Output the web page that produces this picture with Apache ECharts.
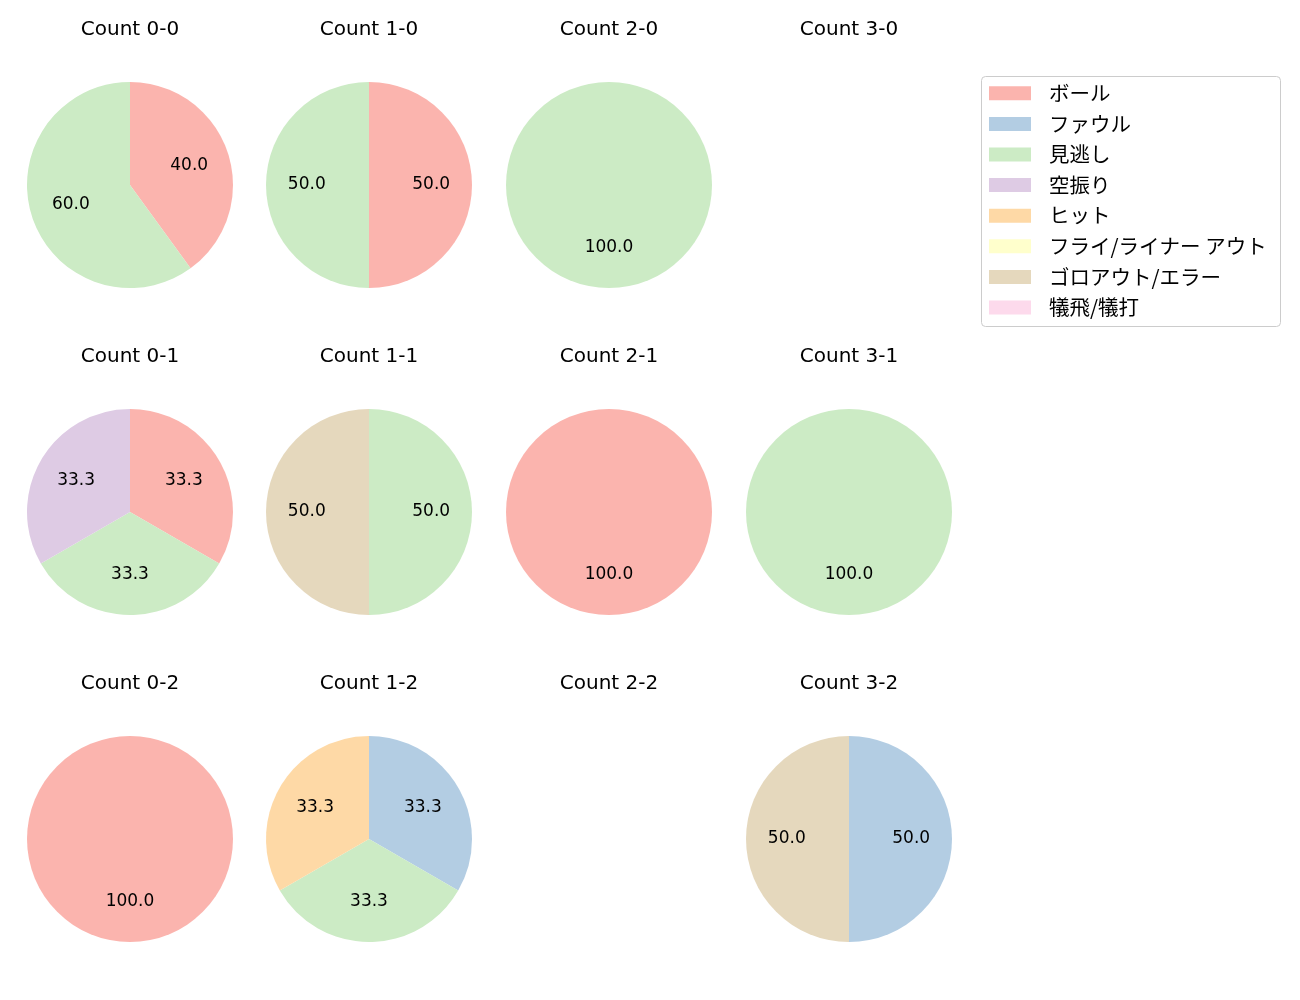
<!DOCTYPE html>
<html>
<head>
<meta charset="utf-8">
<script src="https://cdn.jsdelivr.net/npm/echarts@6/dist/echarts.min.js"></script>
<style>
html,body{margin:0;padding:0;background:#fff;}
#chart{width:1300px;height:1000px;}
</style>
</head>
<body>
<div id="chart"></div>
<script>
const categories = ['ボール','ファウル','見逃し','空振り','ヒット','フライ/ライナー アウト','ゴロアウト/エラー','犠飛/犠打'];
const colors = ['#fbb4ae','#b3cde3','#ccebc5','#decbe4','#fed9a6','#ffffcc','#e5d8bd','#fddaec'];
const titles = ['Count 0-0','Count 1-0','Count 2-0','Count 3-0',
                'Count 0-1','Count 1-1','Count 2-1','Count 3-1',
                'Count 0-2','Count 1-2','Count 2-2','Count 3-2'];
// values per category (percent), order follows categories
const count00 = [40, 0, 60, 0, 0, 0, 0, 0];
const count10 = [50, 0, 50, 0, 0, 0, 0, 0];
const count20 = [0, 0, 100, 0, 0, 0, 0, 0];
const count30 = [0, 0, 0, 0, 0, 0, 0, 0];
const count01 = [33.3, 0, 33.3, 33.3, 0, 0, 0, 0];
const count11 = [0, 0, 50, 0, 0, 0, 50, 0];
const count21 = [100, 0, 0, 0, 0, 0, 0, 0];
const count31 = [0, 0, 100, 0, 0, 0, 0, 0];
const count02 = [100, 0, 0, 0, 0, 0, 0, 0];
const count12 = [0, 33.3, 33.3, 0, 33.3, 0, 0, 0];
const count22 = [0, 0, 0, 0, 0, 0, 0, 0];
const count32 = [0, 50, 0, 0, 0, 0, 50, 0];
const allCounts = [count00,count10,count20,count30,count01,count11,count21,count31,count02,count12,count22,count32];

const FONT = '"DejaVu Sans", "Noto Sans CJK JP", sans-serif';
const JFONT = '"Noto Sans CJK JP", "DejaVu Sans", sans-serif';
const colX = [130, 369, 609, 849];
const rowY = [185, 512, 839];
const titleY = [30, 357, 684];
const R = 103;

const series = [];
// hidden series providing legend entries/colors for all categories
series.push({
  type: 'pie', radius: 0, center: [-500, -500], silent: true,
  label: {show: false}, labelLine: {show: false},
  data: categories.map((c, i) => ({name: c, value: 1, itemStyle: {color: colors[i]}}))
});
const graphic = [];
allCounts.forEach((vals, k) => {
  const cx = colX[k % 4], cy = rowY[Math.floor(k / 4)];
  const data = [];
  vals.forEach((v, i) => { if (v > 0) data.push({name: categories[i], value: v, itemStyle: {color: colors[i]}}); });
  graphic.push({type: 'text', x: cx, y: titleY[Math.floor(k / 4)], style: {text: titles[k], font: '20px ' + FONT, fill: '#000', textAlign: 'center', textVerticalAlign: 'middle'}});
  if (!data.length) return;
  series.push({
    type: 'pie', center: [cx, cy], radius: R, startAngle: 90, clockwise: true,
    avoidLabelOverlap: false, silent: true, animation: false,
    itemStyle: {borderWidth: 0},
    label: {show: false}, labelLine: {show: false},
    emphasis: {disabled: true},
    data: data
  });
  series.push({
    type: 'pie', center: [cx, cy], radius: [R * 0.15, R], startAngle: 90, clockwise: true,
    avoidLabelOverlap: false, silent: true, animation: false,
    itemStyle: {color: 'rgba(0,0,0,0)', borderWidth: 0},
    label: {show: true, position: 'inside', color: '#000', fontSize: 17, fontFamily: FONT,
            formatter: p => p.value.toFixed(1)},
    labelLine: {show: false},
    emphasis: {disabled: true},
    data: data.map(d => ({name: d.name, value: d.value}))
  });
});
graphic.push({type: 'rect', shape: {x: 981.5, y: 76.5, width: 299, height: 250, r: 4},
  style: {fill: 'rgba(255,255,255,0.8)', stroke: '#cccccc', lineWidth: 1}, z: -1});

const chart = echarts.init(document.getElementById('chart'), null, {renderer: 'canvas'});
chart.setOption({
  animation: false,
  backgroundColor: '#fff',
  graphic: graphic,
  legend: {
    orient: 'vertical', left: 989, top: 78, padding: 0,
    itemWidth: 42, itemHeight: 14, itemGap: 0, icon: 'rect',
    selectedMode: false,
    textStyle: {fontSize: 20.5, fontFamily: JFONT, color: '#000', lineHeight: 30.6, padding: [0, 0, 0, 13]},
    data: categories
  },
  series: series
});
</script>
</body>
</html>
